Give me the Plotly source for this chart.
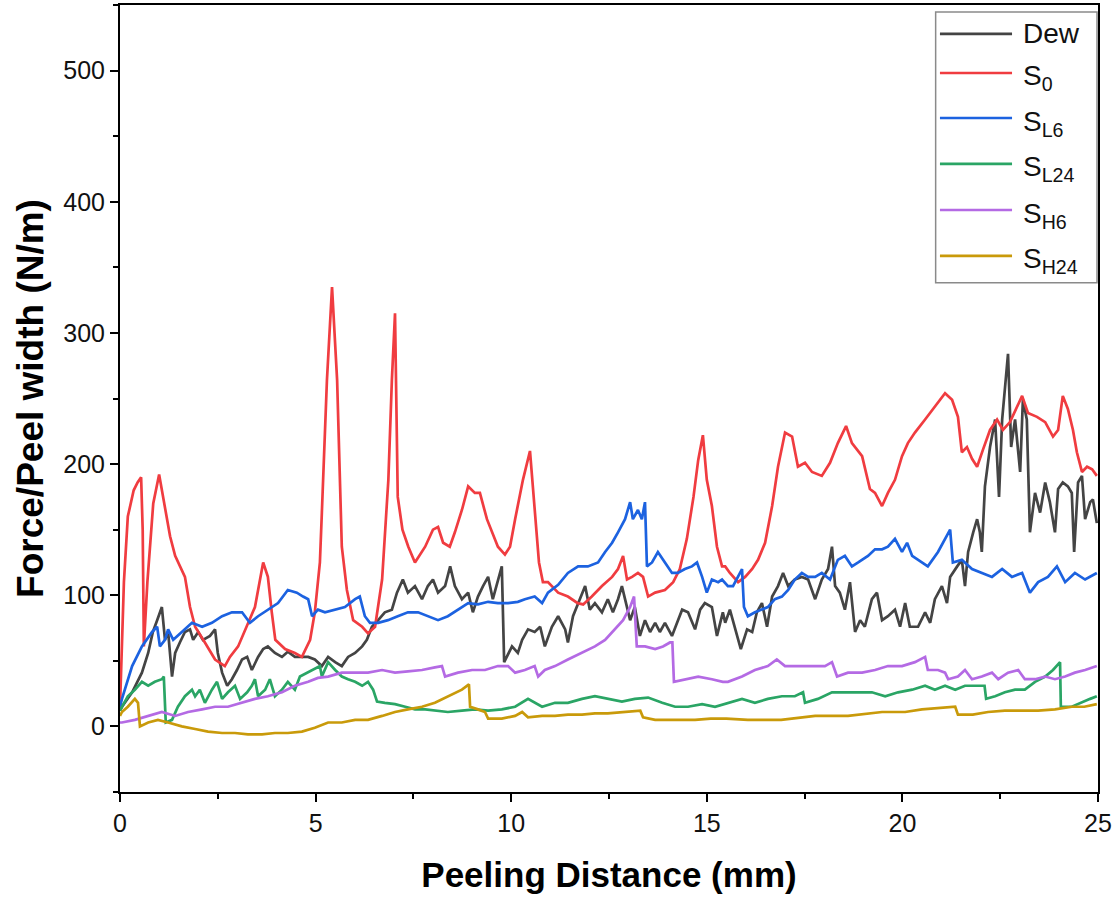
import plotly.graph_objects as go

# ---- data (x in mm, y in N/m) ----
DEW = [(0,12),(0.05,15),(0.31,26),(0.56,41),(0.72,56),(0.84,72),(0.95,81),(1.07,91),(1.15,66),(1.23,72),(1.33,38),(1.41,56),(1.53,64),(1.66,72),(1.79,74),(1.87,66),(2.0,72),(2.12,66),(2.3,69),(2.43,74),(2.5,56),(2.61,41),(2.74,31),(2.86,36),(2.99,43),(3.12,51),(3.25,53),(3.37,43),(3.53,53),(3.66,59),(3.78,61),(3.96,56),(4.14,53),(4.29,57),(4.47,53),(4.65,53),(4.81,53),(4.98,51),(5.16,46),(5.32,53),(5.5,49),(5.67,46),(5.83,53),(6.01,56),(6.19,61),(6.31,66),(6.44,76),(6.6,81),(6.77,87),(6.95,89),(7.08,102),(7.23,112),(7.36,102),(7.54,107),(7.72,97),(7.87,107),(8.0,112),(8.13,102),(8.31,107),(8.44,122),(8.56,107),(8.74,97),(8.9,102),(9.02,87),(9.15,99),(9.28,107),(9.41,114),(9.53,97),(9.66,112),(9.76,122),(9.82,49),(10.02,61),(10.17,56),(10.28,66),(10.43,74),(10.6,72),(10.74,76),(10.86,61),(11.04,76),(11.2,84),(11.38,74),(11.45,64),(11.58,84),(11.76,97),(11.89,107),(12.01,89),(12.14,94),(12.32,87),(12.47,97),(12.6,87),(12.73,97),(12.83,107),(12.96,91),(13.04,81),(13.16,91),(13.29,69),(13.42,81),(13.55,72),(13.68,79),(13.8,72),(13.93,79),(14.11,69),(14.24,79),(14.37,89),(14.52,87),(14.7,74),(14.83,89),(14.95,94),(15.13,91),(15.26,69),(15.41,87),(15.47,79),(15.59,89),(15.72,74),(15.87,59),(16.03,74),(16.16,72),(16.28,87),(16.41,94),(16.54,76),(16.67,99),(16.82,107),(16.95,117),(17.08,107),(17.25,112),(17.43,114),(17.59,112),(17.77,97),(17.94,112),(18.1,120),(18.2,137),(18.28,107),(18.4,102),(18.53,89),(18.66,110),(18.79,72),(18.92,81),(19.04,76),(19.22,97),(19.35,102),(19.48,81),(19.63,84),(19.81,89),(19.94,76),(20.07,94),(20.19,76),(20.4,76),(20.58,87),(20.71,79),(20.83,97),(21.01,107),(21.14,94),(21.22,114),(21.4,122),(21.52,127),(21.6,107),(21.68,133),(21.81,148),(21.91,158),(21.98,148),(22.03,133),(22.11,183),(22.24,213),(22.37,234),(22.47,175),(22.55,234),(22.7,284),(22.78,213),(22.88,234),(23.01,194),(23.08,249),(23.18,234),(23.26,148),(23.39,178),(23.52,163),(23.65,186),(23.77,171),(23.9,148),(23.98,181),(24.1,186),(24.23,183),(24.33,178),(24.39,133),(24.49,186),(24.59,191),(24.67,158),(24.8,171),(24.87,173),(24.97,155)]

S0 = [(0,15),(0.1,110),(0.2,160),(0.35,180),(0.45,186),(0.54,190),(0.58,150),(0.61,61),(0.7,110),(0.85,170),(1.0,192),(1.15,168),(1.28,145),(1.41,130),(1.53,122),(1.66,114),(1.79,91),(1.92,76),(2.17,64),(2.43,51),(2.68,46),(2.81,53),(3.02,61),(3.2,74),(3.45,91),(3.66,125),(3.78,114),(3.88,87),(3.97,66),(4.22,59),(4.47,56),(4.65,53),(4.86,66),(4.98,87),(5.11,125),(5.16,163),(5.29,264),(5.42,335),(5.55,264),(5.67,137),(5.8,104),(5.96,81),(6.19,76),(6.34,71),(6.52,76),(6.7,112),(6.86,188),(6.95,264),(7.03,315),(7.1,175),(7.22,150),(7.37,137),(7.54,125),(7.8,137),(8.0,150),(8.13,152),(8.26,140),(8.43,137),(8.56,148),(8.74,165),(8.9,183),(9.07,178),(9.2,178),(9.38,158),(9.51,148),(9.66,137),(9.84,131),(9.97,137),(10.1,158),(10.3,188),(10.48,210),(10.6,163),(10.71,125),(10.81,110),(10.94,110),(11.2,102),(11.45,99),(11.7,94),(11.84,93),(12.06,99),(12.32,107),(12.58,114),(12.73,120),(12.86,130),(12.96,112),(13.09,114),(13.24,117),(13.37,114),(13.5,99),(13.68,102),(13.93,104),(14.14,110),(14.31,120),(14.49,143),(14.66,175),(14.78,203),(14.9,222),(15.0,188),(15.13,168),(15.26,137),(15.39,122),(15.47,122),(15.59,117),(15.8,110),(15.98,114),(16.16,120),(16.31,127),(16.49,140),(16.67,168),(16.82,198),(17.0,224),(17.18,221),(17.33,198),(17.51,201),(17.69,194),(17.94,191),(18.15,201),(18.35,216),(18.56,229),(18.71,216),(18.97,206),(19.17,181),(19.3,178),(19.48,168),(19.63,178),(19.81,188),(19.99,206),(20.14,216),(20.32,224),(20.58,234),(20.83,244),(21.09,254),(21.27,249),(21.42,236),(21.52,209),(21.65,213),(21.78,204),(21.91,198),(22.06,211),(22.24,226),(22.42,234),(22.57,226),(22.75,232),(22.93,244),(23.06,252),(23.21,239),(23.44,236),(23.65,232),(23.85,221),(23.98,226),(24.1,252),(24.23,242),(24.36,226),(24.46,209),(24.59,194),(24.72,198),(24.85,196),(24.97,191)]

SL6 = [(0,15),(0.05,21),(0.31,46),(0.56,61),(0.82,72),(0.95,76),(1.02,61),(1.15,66),(1.23,74),(1.36,66),(1.58,72),(1.84,79),(2.1,76),(2.35,79),(2.61,84),(2.86,87),(3.12,87),(3.32,79),(3.53,84),(3.78,89),(4.04,94),(4.29,104),(4.52,102),(4.68,99),(4.81,97),(4.91,84),(5.06,89),(5.24,87),(5.5,89),(5.75,91),(6.01,97),(6.13,99),(6.26,84),(6.39,79),(6.6,79),(6.85,81),(7.1,84),(7.36,87),(7.62,87),(7.87,84),(8.13,81),(8.38,84),(8.64,89),(8.9,94),(9.15,93),(9.41,95),(9.66,94),(9.92,94),(10.17,95),(10.35,97),(10.6,99),(10.79,94),(10.94,102),(11.2,108),(11.45,117),(11.71,122),(11.96,122),(12.22,125),(12.4,133),(12.58,140),(12.73,148),(12.91,158),(13.04,171),(13.11,158),(13.24,165),(13.34,158),(13.42,171),(13.47,122),(13.6,125),(13.75,133),(13.93,125),(14.11,117),(14.26,117),(14.44,120),(14.62,122),(14.75,125),(14.88,114),(15.0,102),(15.13,112),(15.29,110),(15.39,112),(15.54,107),(15.67,107),(15.8,114),(15.9,120),(15.95,91),(16.05,84),(16.23,87),(16.41,89),(16.56,91),(16.74,97),(16.92,99),(17.08,104),(17.25,112),(17.43,117),(17.59,114),(17.77,114),(17.94,117),(18.15,112),(18.35,127),(18.53,130),(18.71,122),(18.87,125),(19.12,130),(19.3,135),(19.48,135),(19.63,137),(19.81,143),(19.99,133),(20.12,140),(20.25,130),(20.4,127),(20.65,122),(20.91,133),(21.14,145),(21.22,150),(21.29,125),(21.52,127),(21.78,120),(22.03,117),(22.29,114),(22.55,120),(22.8,114),(23.06,117),(23.26,102),(23.47,110),(23.72,114),(23.95,122),(24.16,110),(24.41,117),(24.67,112),(24.97,117)]

SL24 = [(0,12),(0.05,15),(0.2,23),(0.38,28),(0.56,34),(0.72,31),(0.89,34),(1.07,36),(1.12,38),(1.17,3),(1.33,5),(1.48,15),(1.66,23),(1.84,28),(1.92,23),(2.04,28),(2.17,18),(2.35,28),(2.48,34),(2.61,21),(2.76,26),(2.94,31),(3.07,21),(3.25,26),(3.37,31),(3.45,36),(3.53,23),(3.71,28),(3.83,36),(3.96,23),(4.14,28),(4.29,34),(4.47,28),(4.6,38),(4.78,41),(4.93,43),(5.11,46),(5.16,38),(5.32,49),(5.5,43),(5.67,38),(5.83,36),(6.01,34),(6.19,31),(6.34,34),(6.47,28),(6.57,19),(6.77,18),(7.03,17),(7.29,15),(7.54,13),(7.8,13),(8.05,12),(8.38,11),(8.74,12),(9.07,13),(9.41,12),(9.76,13),(10.1,15),(10.43,21),(10.79,15),(11.12,18),(11.45,18),(11.81,21),(12.14,23),(12.47,21),(12.83,19),(13.16,21),(13.5,22),(13.86,18),(14.19,15),(14.52,15),(14.88,17),(15.21,15),(15.54,18),(15.9,21),(16.23,18),(16.56,21),(16.92,23),(17.25,23),(17.46,26),(17.51,18),(17.84,21),(18.2,26),(18.53,26),(18.87,26),(19.22,26),(19.56,23),(19.89,26),(20.25,28),(20.58,31),(20.83,28),(21.09,31),(21.35,28),(21.6,31),(21.93,31),(22.1,31),(22.14,21),(22.37,23),(22.62,26),(22.88,28),(23.13,28),(23.39,34),(23.65,38),(23.85,43),(24.03,49),(24.05,15),(24.33,15),(24.59,18),(24.8,21),(24.97,23)]

SH6 = [(0,3),(0.05,3),(0.38,5),(0.72,8),(1.07,11),(1.41,8),(1.74,11),(2.1,13),(2.43,15),(2.76,15),(3.12,18),(3.45,21),(3.78,23),(4.14,26),(4.47,31),(4.81,34),(5.06,37),(5.32,38),(5.67,41),(6.01,41),(6.34,41),(6.7,43),(7.03,41),(7.36,42),(7.72,43),(8.05,45),(8.23,46),(8.31,38),(8.64,41),(9.0,43),(9.33,43),(9.66,46),(9.92,46),(10.1,41),(10.35,43),(10.6,46),(10.69,38),(10.86,43),(11.12,46),(11.45,51),(11.81,56),(12.14,61),(12.4,66),(12.65,74),(12.86,81),(13.04,91),(13.14,99),(13.21,61),(13.42,61),(13.68,59),(13.88,61),(14.06,64),(14.12,64),(14.16,34),(14.44,36),(14.78,38),(15.13,36),(15.41,34),(15.54,34),(15.9,38),(16.23,43),(16.56,46),(16.79,51),(17.0,46),(17.33,46),(17.69,46),(18.02,46),(18.2,49),(18.33,38),(18.61,41),(18.97,41),(19.3,43),(19.63,46),(19.99,46),(20.32,49),(20.58,53),(20.65,43),(20.91,43),(21.09,41),(21.17,36),(21.42,38),(21.6,43),(21.78,36),(22.03,38),(22.29,41),(22.45,36),(22.7,41),(22.96,43),(23.13,36),(23.39,36),(23.65,38),(23.9,36),(24.16,38),(24.41,41),(24.67,43),(24.97,46)]

SH24 = [(0,8),(0.05,11),(0.2,15),(0.38,21),(0.46,18),(0.51,0),(0.72,3),(0.97,5),(1.23,3),(1.58,0),(1.92,-2),(2.25,-4),(2.61,-5),(2.94,-5),(3.27,-6),(3.63,-6),(3.96,-5),(4.29,-5),(4.65,-4),(4.98,-1),(5.32,3),(5.67,3),(6.01,5),(6.34,5),(6.7,8),(7.03,11),(7.36,13),(7.72,15),(8.05,18),(8.38,23),(8.74,28),(8.92,32),(8.95,15),(9.15,13),(9.33,11),(9.41,6),(9.76,6),(10.1,8),(10.28,11),(10.43,7),(10.79,8),(11.12,8),(11.45,9),(11.81,9),(12.14,10),(12.47,10),(12.83,11),(13.16,12),(13.3,12),(13.37,7),(13.68,5),(14.06,5),(14.4,5),(14.7,5),(15.1,6),(15.5,6),(16.05,5),(16.9,5),(17.77,8),(18.61,8),(19.48,11),(20.07,11),(20.5,13),(20.91,14),(21.35,15),(21.42,9),(21.8,9),(22.19,11),(22.62,12),(23.05,12),(23.47,12),(23.9,13),(24.33,15),(24.65,15),(24.97,17)]

NAMES = ["Dew", "S<sub>0</sub>", "S<sub>L6</sub>", "S<sub>L24</sub>", "S<sub>H6</sub>", "S<sub>H24</sub>"]
SERIES = [DEW, S0, SL6, SL24, SH6, SH24]
COLORS = ["#444444", "#f03c40", "#1c62e0", "#2aa565", "#b46ae4", "#c99a0a"]

X_TICKS = [0, 5, 10, 15, 20, 25]
Y_TICKS = [0, 100, 200, 300, 400, 500]

fig = go.Figure()
for name, data, col in zip(NAMES, SERIES, COLORS):
    xs = [p[0] for p in data]
    ys = [p[1] for p in data]
    fig.add_trace(go.Scatter(x=xs, y=ys, mode="lines", name=name,
                             line=dict(color=col, width=2.7), showlegend=False))

FONT = "Arial, 'Liberation Sans', Helvetica, sans-serif"

fig.update_layout(
    width=1119, height=902,
    margin=dict(l=120, r=21, t=5, b=110),
    plot_bgcolor="white", paper_bgcolor="white",
    font=dict(family=FONT, color="black"),
    showlegend=False,
)
axis_common = dict(showgrid=False, zeroline=False, showline=True, linecolor="black",
                   linewidth=2, mirror=True, ticks="outside", ticklen=8, tickwidth=2,
                   tickcolor="black", tickfont=dict(size=25, family=FONT, color="#111"))
fig.update_xaxes(range=[0, 25], tickmode="array", tickvals=X_TICKS,
                 minor=dict(ticks="outside", ticklen=5, tickwidth=2, tickcolor="black", dtick=2.5, tick0=0),
                 title=dict(text="<b>Peeling Distance (mm)</b>", font=dict(size=35, family=FONT), standoff=26),
                 automargin=False, **axis_common)
fig.update_yaxes(range=[-50, 550], tickmode="array", tickvals=Y_TICKS,
                 minor=dict(ticks="outside", ticklen=5, tickwidth=2, tickcolor="black", dtick=50, tick0=-50),
                 title=dict(text="<b>Force/Peel width (N/m)</b>", font=dict(size=37, family=FONT), standoff=8),
                 automargin=False, **axis_common)

# ---- legend box drawn in paper coordinates ----
L_X0, L_X1, L_Y0, L_Y1 = 0.834, 0.999, 0.647, 0.991
fig.add_shape(type="rect", xref="paper", yref="paper", x0=L_X0, x1=L_X1, y0=L_Y0, y1=L_Y1,
              line=dict(color="#8a8a8a", width=1.5), fillcolor="white", layer="above")
ROW_Y = [0.9632, 0.9136, 0.8564, 0.7980, 0.7395, 0.6811]
for name, col, yy in zip(NAMES, COLORS, ROW_Y):
    fig.add_shape(type="line", xref="paper", yref="paper", x0=0.8384, x1=0.9121, y0=yy, y1=yy,
                  line=dict(color=col, width=2.7), layer="above")
    fig.add_annotation(xref="paper", yref="paper", x=0.9213, y=yy, text=name, showarrow=False,
                       xanchor="left", yanchor="middle", yshift=(0 if name == "Dew" else -5),
                       font=dict(size=28, family=FONT, color="#111"))

fig.write_html("out.html")
